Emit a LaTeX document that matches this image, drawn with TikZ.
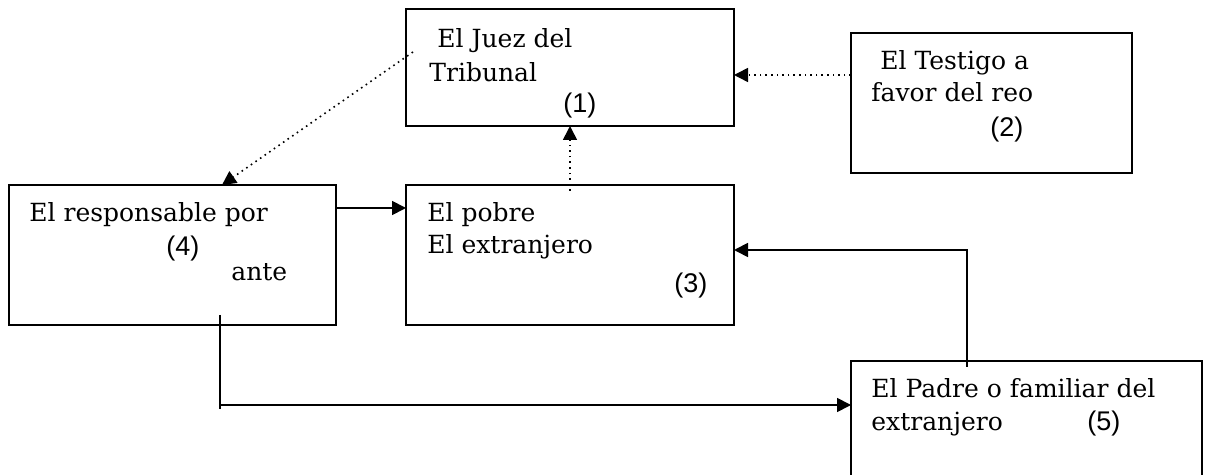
\documentclass[tikz,border=0pt]{standalone}
\usepackage{fontspec}
\setmainfont{DejaVu Serif}
\newfontfamily\numfont{Liberation Sans}
\usetikzlibrary{positioning}
\usetikzlibrary{arrows.meta}

\begin{document}
\begin{tikzpicture}[x=0.5pt, y=-0.5pt,
    box/.style={draw, line width=1pt, inner sep=0pt, outer sep=0pt, anchor=north west},
    txt/.style={anchor=base west, inner sep=0pt, font=\fontsize{12.5}{15}\selectfont},
    num/.style={anchor=base west, inner sep=0pt, font=\fontsize{13.5}{15}\selectfont\numfont},
    tip/.style={-{Triangle[length=7pt, width=7pt]}},
    solidline/.style={line width=0.9pt},
    solidarrow/.style={tip, solidline},
    dotarrow/.style={tip, dotted, line width=0.8pt}]
    \useasboundingbox (0,0) rectangle (1205,475);

    % boxes
    \node[box, minimum width=164pt, minimum height=58.5pt] (juez) at (406,9) {};
    \node[box, minimum width=140.5pt, minimum height=70pt] (testigo) at (851,33) {};
    \node[box, minimum width=163.5pt, minimum height=70pt] (resp) at (9,185) {};
    \node[box, minimum width=164pt, minimum height=70pt] (pobre) at (406,185) {};
    \node[box, minimum width=175.5pt, minimum height=64.5pt] (padre) at (851,361) {};

    % texts
    \node[txt] (juez1) at (437,48) {El Juez del};
    \node[txt] (juez2) at (429,82) {Tribunal};
    \node[num] (juezn) at (563,113) {(1)};
    \node[txt] (test1) at (880,70) {El Testigo a};
    \node[txt] (test2) at (871,102) {favor del reo};
    \node[num] (testn) at (990,137) {(2)};
    \node[txt] (resp1) at (29,222) {El responsable por};
    \node[num] (respn) at (166,256) {(4)};
    \node[txt] (resp2) at (231,281) {ante};
    \node[txt] (pobre1) at (427,222) {El pobre};
    \node[txt] (pobre2) at (427,254) {El extranjero};
    \node[num] (pobren) at (674,293) {(3)};
    \node[txt] (padre1) at (871,398) {El Padre o familiar del};
    \node[txt] (padre2) at (871,431) {extranjero};
    \node[num] (padren) at (1087,431) {(5)};

    % connectors
    \coordinate (d1) at (413,52);
    \coordinate (t2) at (851,75);
    \coordinate (p3) at (570,191);
    \coordinate (f5) at (967,367);
    \coordinate (a4) at (220,315);
    \coordinate (a5) at (220,409);
    \coordinate (turn) at (220,405);

    \draw[dotarrow] (t2) -- (t2 -| juez.east);
    \draw[dotarrow] (p3) -- (p3 |- juez.south);
    \draw[dotarrow] (d1) -- ([xshift=106.5pt]resp.north west);
    \draw[solidarrow] ([yshift=-11.5pt]resp.north east) -- ([yshift=-11.5pt]pobre.north west);
    \draw[solidarrow] (f5) |- ([yshift=-32.5pt]pobre.north east);
    \draw[solidline] (a4) -- (a5);
    \draw[solidarrow] (turn) -- (turn -| padre.west);
\end{tikzpicture}
\end{document}
